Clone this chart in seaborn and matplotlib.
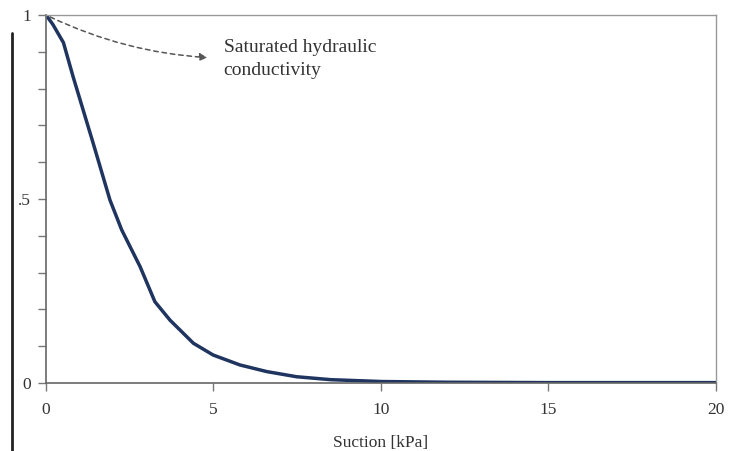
import matplotlib
matplotlib.use("Agg")
import matplotlib.pyplot as plt
from matplotlib.lines import Line2D
from matplotlib.ticker import MultipleLocator
import seaborn as sns
import pandas as pd

# Data
suction = [0.0, 0.2, 0.52, 0.81, 1.41, 1.91, 2.26, 2.81, 3.25, 3.70, 4.40, 4.99,
           5.79, 6.59, 7.48, 8.5, 10.0, 12.0, 15.0, 20.0]
rel_k = [1.0, 0.975, 0.925, 0.832, 0.651, 0.497, 0.416, 0.316, 0.221, 0.171, 0.108,
         0.076, 0.049, 0.031, 0.017, 0.009, 0.004, 0.002, 0.001, 0.001]
x_ticks = [0, 5, 10, 15, 20]
y_ticks = [0, 0.5, 1]
y_tick_labels = ["0", ".5", "1"]
annotation_text = "Saturated hydraulic\nconductivity"
x_label = "Suction [kPa]"

df = pd.DataFrame({"suction": suction, "k": rel_k})

sns.set_theme(style="white")
plt.rcParams["font.family"] = ["Liberation Serif", "DejaVu Serif"]

fig = plt.figure(figsize=(7.35, 4.51), dpi=100)
ax = fig.add_axes([0.0626, 0.1508, 0.9114, 0.8159])

sns.lineplot(data=df, x="suction", y="k", ax=ax, color="#1f3560", linewidth=2.5)

ax.set_xlim(0, 20)
ax.set_ylim(0, 1)
ax.set_xticks(x_ticks)
ax.set_yticks(y_ticks)
ax.set_yticklabels(y_tick_labels)
ax.yaxis.set_minor_locator(MultipleLocator(0.1))
ax.tick_params(axis="both", which="major", direction="out", length=6, width=1,
               color="#777777", labelsize=12.5, labelcolor="#333333")
ax.tick_params(axis="x", which="major", pad=8)
ax.tick_params(axis="y", which="major", pad=5)
ax.tick_params(axis="y", which="minor", direction="out", length=6, width=1,
               color="#777777", left=True)
ax.tick_params(axis="x", bottom=True)
ax.tick_params(axis="y", left=True)
ax.set_xlabel(x_label, fontsize=12.5, color="#333333", labelpad=12)
ax.set_ylabel("")

for side in ["left", "bottom"]:
    ax.spines[side].set_color("#666666")
    ax.spines[side].set_linewidth(1.2)
for side in ["top", "right"]:
    ax.spines[side].set_color("#999999")
    ax.spines[side].set_linewidth(1.0)

ax.annotate("", xy=(4.9, 0.884), xytext=(0.05, 0.998),
            arrowprops=dict(arrowstyle="-|>", linestyle=(0, (3, 2.5)), color="#555555",
                            linewidth=1.1, connectionstyle="arc3,rad=0.1",
                            mutation_scale=11))
ax.text(5.3, 0.935, annotation_text, fontsize=14, color="#333333",
        va="top", ha="left", linespacing=1.45)

fig.add_artist(Line2D([12 / 735, 12 / 735], [0, (451 - 33) / 451],
                      transform=fig.transFigure, color="#222222", linewidth=2))

fig.savefig("out.png", dpi=100)
